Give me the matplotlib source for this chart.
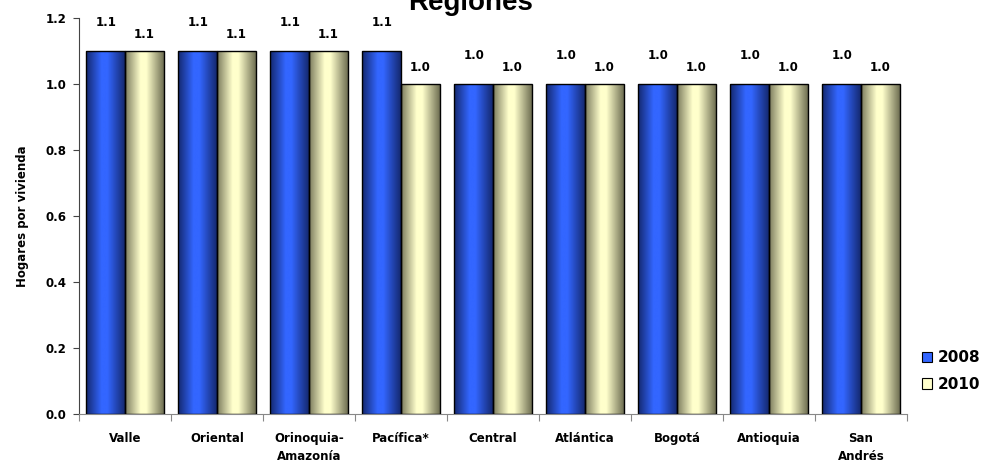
import matplotlib.pyplot as plt
import numpy as np
from matplotlib.colors import LinearSegmentedColormap
from matplotlib.patches import Rectangle

regiones = ['Valle', 'Oriental', 'Orinoquia-\nAmazonía', 'Pacífica*', 'Central',
            'Atlántica', 'Bogotá', 'Antioquia', 'San\nAndrés']
v2008 = [1.1, 1.1, 1.1, 1.1, 1.0, 1.0, 1.0, 1.0, 1.0]
v2010 = [1.1, 1.1, 1.1, 1.0, 1.0, 1.0, 1.0, 1.0, 1.0]

blue_cmap = LinearSegmentedColormap.from_list(
    'b', [(0, '#14286e'), (0.4, '#3366ff'), (0.55, '#3366ff'), (1, '#14286e')])
cream_cmap = LinearSegmentedColormap.from_list(
    'c', [(0, '#7a7a5c'), (0.4, '#ffffcc'), (0.55, '#ffffcc'), (1, '#6e6e52')])

plt.rcParams['font.family'] = ['DejaVu Sans']

fig = plt.figure(figsize=(9.88, 4.68), dpi=100)
ax = fig.add_axes([0.080, 0.1154, 0.838, 0.8461])

x = np.arange(len(regiones))
w = 0.42
grad = np.linspace(0, 1, 256).reshape(1, -1)


def gradient_bars(xs, vals, cmap):
    bars = ax.bar(xs, vals, w, color='none', edgecolor='black', linewidth=1.0, zorder=3)
    for b in bars:
        x0, y0 = b.get_x(), b.get_y()
        im = ax.imshow(grad, cmap=cmap, aspect='auto', zorder=2,
                       extent=[x0, x0 + b.get_width(), y0, y0 + b.get_height()])
        im.set_clip_path(b)
    return bars


b1 = gradient_bars(x - w / 2, v2008, blue_cmap)
b2 = gradient_bars(x + w / 2, v2010, cream_cmap)

for xi, v in zip(x, v2008):
    ax.annotate(f'{v:.1f}', (xi - w / 2, v), xytext=(0, 16), textcoords='offset points',
                ha='center', va='bottom', fontsize=8.5, fontweight='bold')
for xi, v in zip(x, v2010):
    ax.annotate(f'{v:.1f}', (xi + w / 2, v), xytext=(0, 7), textcoords='offset points',
                ha='center', va='bottom', fontsize=8.5, fontweight='bold')

ax.set_xlim(-0.5, len(regiones) - 0.5)
ax.set_ylim(0, 1.2)
ax.set_yticks(np.arange(0, 1.21, 0.2))
ax.set_yticklabels([f'{t:.1f}' for t in np.arange(0, 1.21, 0.2)], fontsize=8.5, fontweight='bold')
ax.set_xticks(np.arange(-0.5, len(regiones), 1))
ax.set_xticklabels([])
ax.set_xticks(x, minor=True)
ax.set_xticklabels(regiones, minor=True, fontsize=8.5, fontweight='bold', linespacing=1.5)
ax.tick_params(axis='x', which='minor', length=0, pad=13)
ax.tick_params(axis='x', which='major', length=5, color='#888888')
ax.tick_params(axis='y', length=4, color='#444444', pad=5)
for s in ['top', 'right']:
    ax.spines[s].set_visible(False)
ax.spines['left'].set_color('#444444')
ax.spines['bottom'].set_color('#888888')

ax.set_ylabel('Hogares por vivienda', fontsize=8.5, fontweight='bold', labelpad=12)

fig.text(0.476, 0.979, 'Regiones', ha='center', va='baseline', fontsize=20,
         fontweight='bold', family='Liberation Sans')

handles = [Rectangle((0, 0), 1, 1, facecolor='#3366ff', edgecolor='black', linewidth=0.8),
           Rectangle((0, 0), 1, 1, facecolor='#ffffcc', edgecolor='black', linewidth=0.8)]
fig.legend(handles, ['2008', '2010'], loc='center left', bbox_to_anchor=(0.925, 0.207),
           frameon=False, prop={'size': 11, 'weight': 'bold'}, handlelength=0.7,
           handleheight=0.7, handletextpad=0.35, labelspacing=0.75, borderpad=0)

fig.savefig('out.png', dpi=100)
